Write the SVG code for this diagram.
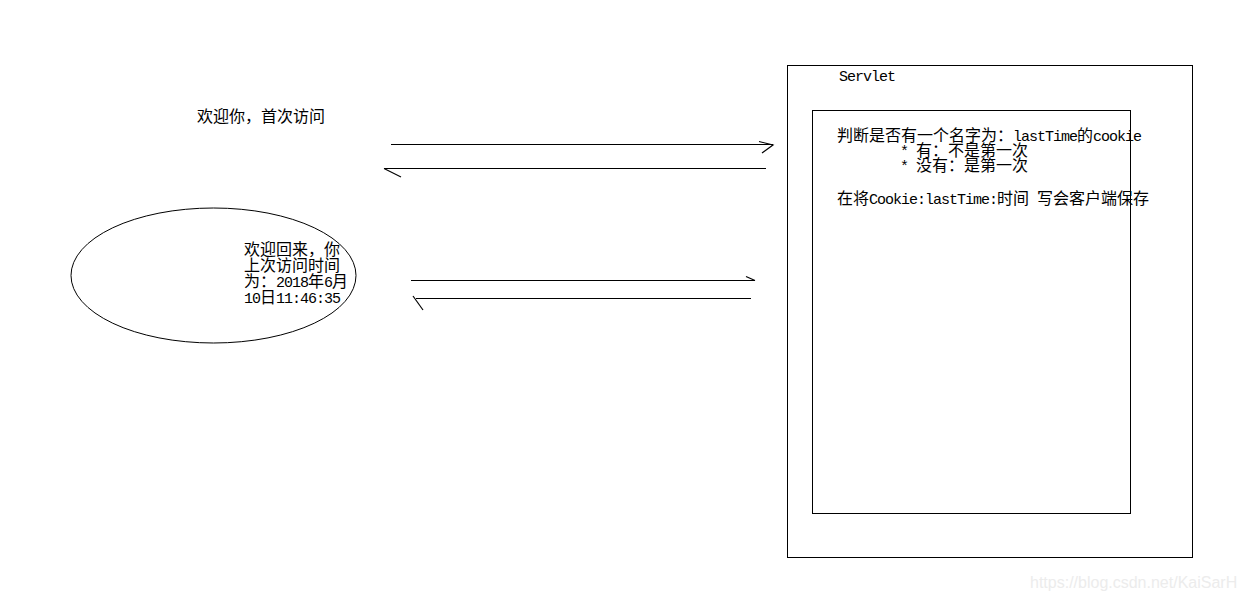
<svg xmlns="http://www.w3.org/2000/svg" width="1244" height="600" viewBox="0 0 1244 600">
<style>
  .shape { fill: none; stroke: #000; stroke-width: 1; }
  .ln { stroke: #000; stroke-width: 1.2; fill: none; }
  .t { font-family: "Noto Sans CJK SC", "Liberation Mono", monospace; font-size: 16px; fill: #000; }
  .m { font-family: "Liberation Mono", "Noto Sans CJK SC", monospace; font-size: 15px; letter-spacing: -1px; }
  .wm { font-family: "Liberation Sans", Arial, sans-serif; font-size: 16px; fill: #ececec; }
</style>
<rect x="0" y="0" width="1244" height="600" fill="#fff"/>

<g id="first-visit">
  <text class="t" x="197" y="122">欢迎你，首次访问</text>
</g>

<g id="welcome-back">
  <ellipse class="shape" cx="213.5" cy="275.5" rx="142.5" ry="67.5"/>
  <text class="t" x="244" y="255">欢迎回来，你</text>
  <text class="t" x="244" y="271">上次访问时间</text>
  <text class="t" x="244" y="287">为：<tspan class="m">2018</tspan>年<tspan class="m">6</tspan>月</text>
  <text class="t" x="244" y="303"><tspan class="m">10</tspan>日<tspan class="m">11:46:35</tspan></text>
</g>

<g id="servlet">
  <rect class="shape" x="787.5" y="65.5" width="405" height="492"/>
  <text class="t m" x="839" y="81">Servlet</text>
  <g id="logic">
    <rect class="shape" x="812.5" y="110.5" width="318" height="403"/>
    <text class="t" x="837" y="141">判断是否有一个名字为：<tspan class="m">lastTime</tspan>的<tspan class="m">cookie</tspan></text>
    <text class="t" x="900" y="156"><tspan class="m">* </tspan>有：不是第一次</text>
    <text class="t" x="900" y="171"><tspan class="m">* </tspan>没有：是第一次</text>
    <text class="t" x="837" y="204">在将<tspan class="m">Cookie:lastTime:</tspan>时间<tspan class="m"> </tspan>写会客户端保存</text>
  </g>
</g>

<g id="connectors">
  <line class="ln" x1="391" y1="144.5" x2="773" y2="144.5"/>
  <polyline class="ln" points="759,141.5 773,145 762,153"/>
  <line class="ln" x1="384" y1="168.5" x2="766" y2="168.5"/>
  <line class="ln" x1="384" y1="168.5" x2="401" y2="177"/>
  <line class="ln" x1="411" y1="280.5" x2="755" y2="280.5"/>
  <line class="ln" x1="746" y1="276.5" x2="755" y2="280.5"/>
  <line class="ln" x1="416" y1="298.5" x2="751" y2="298.5"/>
  <line class="ln" x1="413" y1="296" x2="423" y2="310"/>
</g>

<text class="wm" x="1030" y="588">https://blog.csdn.net/KaiSarH</text>
</svg>
